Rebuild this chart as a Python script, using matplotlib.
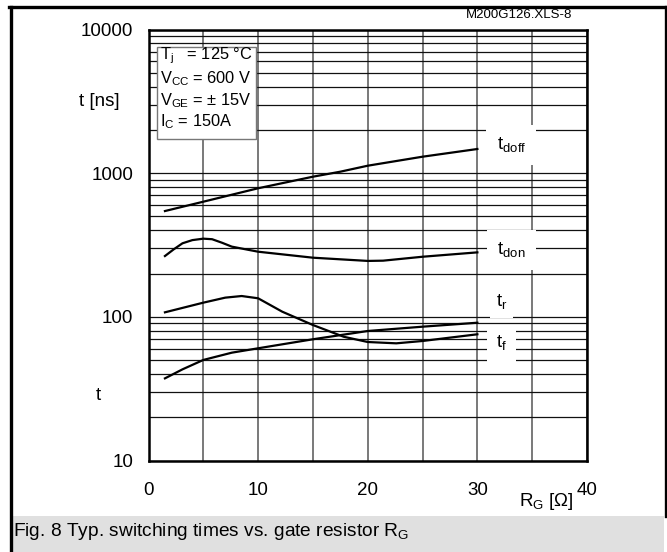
import matplotlib.pyplot as plt
import numpy as np
from matplotlib.lines import Line2D
from matplotlib.patches import Rectangle

plt.rcParams['font.family'] = ['Liberation Sans', 'DejaVu Sans']

# values (R_G in ohm, t in ns)
rg_doff = [1.5, 5, 10, 15, 17.5, 20, 25, 30]
t_doff = [545, 633, 785, 945, 1024, 1127, 1302, 1473]

rg_don = [1.5, 2.3, 3.1, 4.0, 5, 5.8, 6.7, 7.6, 10, 15, 20, 21.4, 25, 30]
t_don = [265, 295, 325, 342, 350, 347, 328, 308, 284, 258, 245, 246, 262, 281]

rg_r = [1.5, 5, 7, 8.5, 10, 12.2, 15, 17.8, 20, 22.6, 25, 30]
t_r = [107.5, 125.5, 136, 139.6, 134.6, 108.6, 87.7, 72.7, 66.8, 65.4, 67.9, 75.6]

rg_f = [1.5, 3.1, 5, 7.6, 10, 15, 20, 25, 30]
t_f = [37.3, 43.1, 50.1, 56.3, 60.4, 69.8, 79.7, 85.4, 91.0]

yticks = [10, 100, 1000, 10000]
xticks = [0, 10, 20, 30, 40]

W, H = 667, 552
FS = 13.5


def px(x, y):
    """pixel position -> figure fraction"""
    return x / W, 1 - y / H


fig = plt.figure(figsize=(W / 100, H / 100), dpi=100)
ax = fig.add_axes([148.5 / W, 1 - 460.5 / H, (587 - 148.5) / W, (460.5 - 29.5) / H])

for xs, ys in [(rg_doff, t_doff), (rg_don, t_don), (rg_r, t_r), (rg_f, t_f)]:
    ax.plot(xs, ys, color='black', lw=1.6, zorder=3)

ax.set_yscale('log')
ax.set_xlim(0, 40)
ax.set_ylim(10, 10000)
ax.set_xticks(xticks)
ax.set_xticklabels([str(v) for v in xticks])
ax.set_xticks([5, 15, 25, 35], minor=True)
ax.set_yticks(yticks)
ax.set_yticklabels([str(v) for v in yticks])
ax.yaxis.set_minor_locator(plt.LogLocator(base=10, subs=np.arange(2, 10)))
ax.yaxis.set_minor_formatter(plt.NullFormatter())
ax.tick_params(which='both', length=0, labelsize=FS)
ax.tick_params(axis='y', pad=11)
ax.tick_params(axis='x', pad=15.5)
ax.grid(True, axis='x', which='both', color='#555555', lw=1.1)
ax.grid(True, axis='y', which='both', color='#111111', lw=0.9)
for s in ax.spines.values():
    s.set_linewidth(1.8)

# curve labels with white boxes covering the grid
lab_kw = dict(fontsize=FS, ha='center', va='center', zorder=4)
ax.text(33.1, 1570, r't$_\mathregular{doff}$', bbox=dict(fc='white', ec='none', boxstyle='square,pad=0.55'), **lab_kw)
ax.text(33.1, 290, r't$_\mathregular{don}$', bbox=dict(fc='white', ec='none', boxstyle='square,pad=0.55'), **lab_kw)
ax.text(32.2, 126, r't$_\mathregular{r}$', bbox=dict(fc='white', ec='none', boxstyle='square,pad=0.3'), **lab_kw)
ax.text(32.2, 65, r't$_\mathregular{f}$', bbox=dict(fc='white', ec='none', boxstyle='square,pad=0.5'), **lab_kw)

# condition box
fig.add_artist(Rectangle(px(157, 139), 99 / W, 92 / H, transform=fig.transFigure,
                         fc='white', ec='#777777', lw=1.0, zorder=5))
rows = [(56, r'T$_\mathregular{j}$   = 125 °C'),
        (79, r'V$_\mathregular{CC}$ = 600 V'),
        (101, r'V$_\mathregular{GE}$ = ± 15V'),
        (122, r'I$_\mathregular{C}$ = 150A')]
for yy, s in rows:
    fig.text(*px(160, yy), s, fontsize=11.8, ha='left', va='center', zorder=6)

# axis titles
fig.text(*px(99, 102), 't [ns]', fontsize=FS, ha='center', va='center')
fig.text(*px(98, 395), 't', fontsize=FS, ha='center', va='center')
fig.text(*px(546, 502), r'R$_\mathregular{G}$ [Ω]', fontsize=FS, ha='center', va='center')
fig.text(*px(572, 15), 'M200G126.XLS-8', fontsize=9.5, ha='right', va='center')

# caption strip and page frame
fig.add_artist(Rectangle(px(12, 552), 652 / W, 36 / H, transform=fig.transFigure,
                         fc='#e0e0e0', ec='none', zorder=0))
fig.text(*px(13, 532), r'Fig. 8 Typ. switching times vs. gate resistor R$_\mathregular{G}$',
         fontsize=13.8, ha='left', va='center')
for (x0, y0), (x1, y1) in [((10.5, 552), (10.5, 6.5)), ((9, 6.5), (667, 6.5)),
                           ((665.5, 6.5), (665.5, 516))]:
    a, b = px(x0, y0)
    c, d = px(x1, y1)
    fig.add_artist(Line2D([a, c], [b, d], color='black', lw=2.4, transform=fig.transFigure))

fig.savefig('out.png', dpi=100)
